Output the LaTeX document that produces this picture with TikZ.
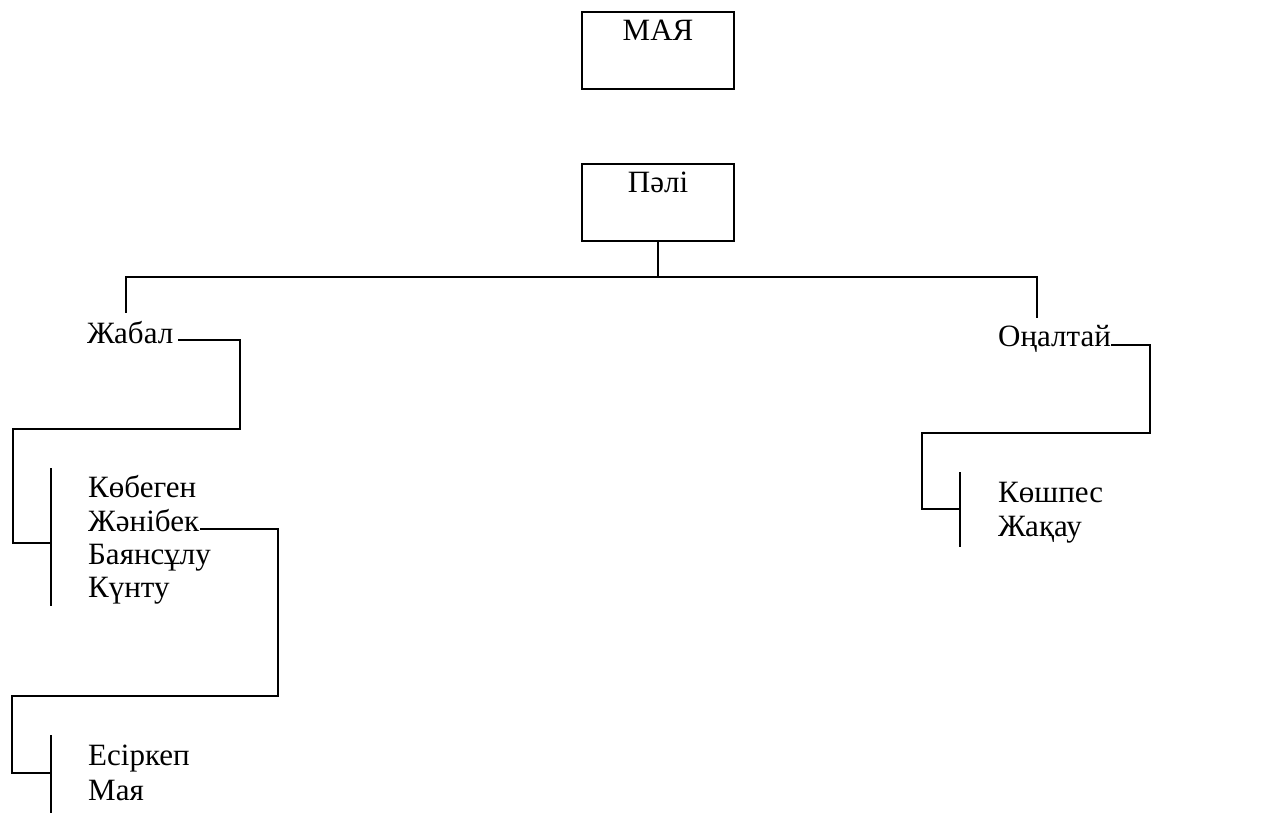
\documentclass[tikz,border=0pt]{standalone}
\usepackage{fontspec}
\setmainfont{Liberation Serif}
\begin{document}
\begin{tikzpicture}[x=1pt,y=-1pt,
  conn/.style={line width=1.3pt, line join=miter},
  boxnode/.style={draw, line width=1.3pt, rectangle, inner sep=0pt, minimum width=152pt, text height=29pt, text depth=48pt, font=\fontsize{31}{33}\selectfont},
  lbl/.style={inner sep=0pt, anchor=base west, font=\fontsize{31}{33}\selectfont}]
\useasboundingbox (0,0) rectangle (1270,813);
% boxes
\node[boxnode] (maya) at (658,50.5) {МАЯ};
\node[boxnode] (pali) at (658,202.5) {Пәлі};
% level 2
\node[lbl] (jabal) at (87,343) {Жабал};
\node[lbl] (onal) at (998,346) {Оңалтай};
% lists
\node[lbl] (kob) at (88,497) {Көбеген};
\node[lbl] (jan) at (88,531) {Жәнібек};
\node[lbl] (bay) at (88,564) {Баянсұлу};
\node[lbl] (kun) at (88,597) {Күнту};
\node[lbl] (esi) at (88,765) {Есіркеп};
\node[lbl] (maya2) at (88,800) {Мая};
\node[lbl] (kosh) at (998,502) {Көшпес};
\node[lbl] (jaq) at (998,536) {Жақау};
% coordinates
\coordinate (hub) at (658,277);
\coordinate (jdrop) at (126,313);
\coordinate (odrop) at (1037,318);
\coordinate (b1top) at (51,468);
\coordinate (b1bot) at (51,606);
\coordinate (b1mid) at (51,543);
\coordinate (b2top) at (51,735);
\coordinate (b2bot) at (51,813);
\coordinate (b2mid) at (51,773);
\coordinate (b3top) at (960,472);
\coordinate (b3bot) at (960,547);
\coordinate (b3mid) at (960,509);
% connectors
\draw[conn] (pali.south) -- (hub);
\draw[conn] (jdrop) |- (hub) -| (odrop);
\draw[conn] ([xshift=5pt,yshift=3pt]jabal.base east) -| (240,429) -| (13,543) -- (b1mid);
\draw[conn] (b1top) -- (b1bot);
\draw[conn] ([xshift=1pt,yshift=2pt]jan.base east) -| (278,696) -| (12,773) -- (b2mid);
\draw[conn] (b2top) -- (b2bot);
\draw[conn] ([xshift=0pt,yshift=1pt]onal.base east) -| (1150,433) -| (922,509) -- (b3mid);
\draw[conn] (b3top) -- (b3bot);
\end{tikzpicture}
\end{document}
